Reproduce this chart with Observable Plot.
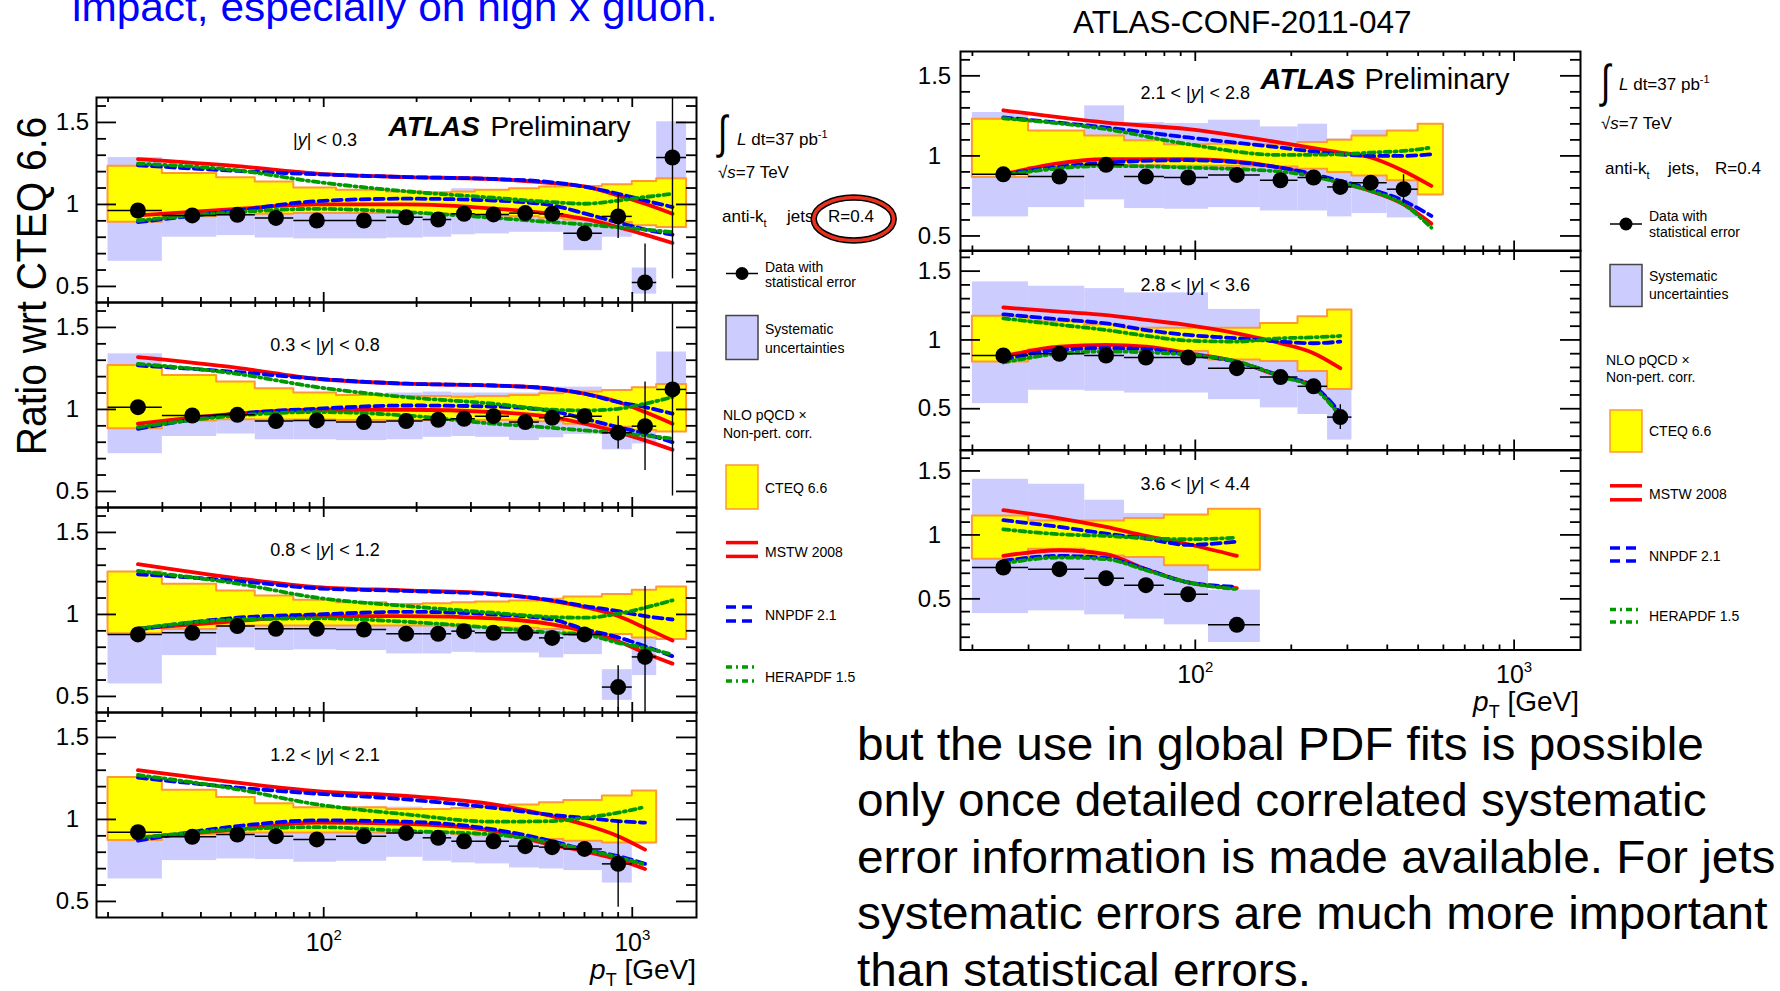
<!DOCTYPE html>
<html>
<head>
<meta charset="utf-8">
<script src="https://cdn.jsdelivr.net/npm/d3@7"></script>
<script src="https://cdn.jsdelivr.net/npm/@observablehq/plot@0.6"></script>
<style>
  html, body { margin: 0; padding: 0; background: #ffffff; }
  #root { position: relative; width: 1780px; height: 991px; overflow: hidden; background: #ffffff;
          font-family: 'Liberation Sans', Arial, Helvetica, sans-serif; }
  .panel { position: absolute; }
  .panel svg { overflow: visible; max-width: none; display: block; }
  #overlay { position: absolute; left: 0; top: 0; pointer-events: none; }
</style>
</head>
<body>
<div id="root"></div>
<script>
// ------------------------------------------------------------------ data
const binEdges = [20, 30, 45, 60, 80, 110, 160, 210, 260, 310, 400, 500, 600, 800, 1000, 1200, 1500];
const xDomain = [18.35, 1615];
const xMajorTicks = [100, 1000];
const xMajorTickLabels = ["10²", "10³"];
const xMinorTicks = [20, 30, 40, 50, 60, 70, 80, 90, 200, 300, 400, 500, 600, 700, 800, 900];
const yMajorTicks = [0.5, 1, 1.5];
const yMajorTickLabels = ["0.5", "1", "1.5"];
const yMinorTicks = [0.2, 0.3, 0.4, 0.6, 0.7, 0.8, 0.9, 1.1, 1.2, 1.3, 1.4, 1.6];
const rapidityBins = ["|y| < 0.3", "0.3 < |y| < 0.8", "0.8 < |y| < 1.2", "1.2 < |y| < 2.1",
                      "2.1 < |y| < 2.8", "2.8 < |y| < 3.6", "3.6 < |y| < 4.4"];

const curveXLeft = [25, 52.5, 95, 185, 355, 550, 700, 900, 1100, 1350];
const curveXLeft4 = [25, 52.5, 95, 185, 355, 550, 700, 900, 1100];
const curveXR1 = [25, 52.5, 95, 185, 285, 355, 450, 550];
const curveXR2 = [25, 37.5, 52.5, 70, 95, 135, 185, 235, 285];
const curveXR3 = [25, 37.5, 52.5, 70, 95, 135];

// |y| < 0.3
const p1Data = [0.963, 0.933, 0.937, 0.918, 0.902, 0.902, 0.922, 0.908, 0.943, 0.939, 0.947, 0.943, 0.824, 0.927, 0.524, 1.286];
const p1Stat = [0.008, 0.006, 0.006, 0.006, 0.006, 0.006, 0.007, 0.008, 0.009, 0.01, 0.012, 0.016, 0.025, 0.135, 0.235, 0.74];
const p1SysLo = [0.653, 0.80, 0.81, 0.795, 0.79, 0.79, 0.795, 0.80, 0.815, 0.82, 0.83, 0.83, 0.718, 0.80, 0.453, 1.02];
const p1SysHi = [1.286, 1.12, 1.10, 1.08, 1.07, 1.07, 1.075, 1.07, 1.096, 1.085, 1.09, 1.08, 0.95, 1.06, 0.612, 1.504];
const p1CteqLo = [0.892, 0.925, 0.935, 0.94, 0.945, 0.945, 0.945, 0.94, 0.935, 0.93, 0.925, 0.915, 0.905, 0.89, 0.87, 0.86];
const p1CteqHi = [1.233, 1.188, 1.163, 1.137, 1.10, 1.086, 1.076, 1.071, 1.076, 1.086, 1.096, 1.106, 1.11, 1.12, 1.14, 1.157];
const p1MstwUp = [1.276, 1.233, 1.188, 1.167, 1.155, 1.13, 1.11, 1.055, 1.004, 0.943];
const p1MstwLo = [0.933, 0.973, 1.0, 1.0, 0.975, 0.943, 0.912, 0.861, 0.816, 0.765];
const p1NnpdfUp = [1.239, 1.204, 1.184, 1.167, 1.155, 1.135, 1.108, 1.065, 1.024, 0.984];
const p1NnpdfLo = [0.892, 0.963, 1.02, 1.035, 1.024, 0.994, 0.945, 0.89, 0.847, 0.816];
const p1HeraUp = [1.249, 1.208, 1.137, 1.08, 1.041, 1.014, 1.004, 1.024, 1.045, 1.065];
const p1HeraLo = [0.902, 0.953, 0.973, 0.953, 0.918, 0.892, 0.878, 0.861, 0.847, 0.831];

// 0.3 < |y| < 0.8
const p2Data = [1.014, 0.963, 0.967, 0.929, 0.933, 0.923, 0.929, 0.937, 0.943, 0.959, 0.923, 0.949, 0.959, 0.858, 0.898, 1.122];
const p2Stat = [0.008, 0.006, 0.006, 0.006, 0.006, 0.006, 0.007, 0.008, 0.009, 0.01, 0.012, 0.016, 0.025, 0.1, 0.27, 0.65];
const p2SysLo = [0.73, 0.835, 0.85, 0.815, 0.815, 0.81, 0.815, 0.83, 0.835, 0.83, 0.81, 0.827, 0.848, 0.754, 0.79, 1.0];
const p2SysHi = [1.339, 1.10, 1.09, 1.09, 1.09, 1.09, 1.10, 1.106, 1.10, 1.10, 1.10, 1.136, 1.136, 1.05, 1.05, 1.35];
const p2CteqLo = [0.882, 0.929, 0.937, 0.935, 0.935, 0.933, 0.933, 0.933, 0.933, 0.933, 0.93, 0.925, 0.91, 0.892, 0.872, 0.862];
const p2CteqHi = [1.268, 1.207, 1.167, 1.126, 1.10, 1.085, 1.079, 1.079, 1.075, 1.079, 1.085, 1.096, 1.106, 1.116, 1.132, 1.152];
const p2MstwUp = [1.319, 1.254, 1.187, 1.157, 1.146, 1.126, 1.096, 1.045, 0.984, 0.913];
const p2MstwLo = [0.913, 0.974, 0.998, 0.998, 0.984, 0.953, 0.913, 0.862, 0.811, 0.754];
const p2NnpdfUp = [1.268, 1.228, 1.187, 1.157, 1.146, 1.126, 1.096, 1.045, 1.014, 0.974];
const p2NnpdfLo = [0.882, 0.974, 1.004, 1.024, 1.018, 0.99, 0.943, 0.892, 0.852, 0.80];
const p2HeraUp = [1.278, 1.217, 1.136, 1.075, 1.035, 0.998, 0.994, 1.004, 1.035, 1.075];
const p2HeraLo = [0.892, 0.963, 0.984, 0.963, 0.913, 0.888, 0.872, 0.856, 0.841, 0.821];

// 0.8 < |y| < 1.2
const p3Data = [0.878, 0.888, 0.929, 0.912, 0.912, 0.908, 0.882, 0.882, 0.898, 0.888, 0.888, 0.857, 0.878, 0.557, 0.741];
const p3Stat = [0.008, 0.006, 0.006, 0.006, 0.006, 0.006, 0.007, 0.008, 0.009, 0.01, 0.012, 0.016, 0.03, 0.13, 0.43];
const p3SysLo = [0.576, 0.749, 0.796, 0.78, 0.784, 0.78, 0.759, 0.759, 0.769, 0.765, 0.765, 0.735, 0.755, 0.476, 0.627];
const p3SysHi = [1.15, 1.05, 1.06, 1.05, 1.05, 1.05, 1.03, 1.03, 1.04, 1.03, 1.03, 1.0, 1.02, 0.663, 0.857];
const p3CteqLo = [0.882, 0.908, 0.929, 0.93, 0.93, 0.93, 0.93, 0.93, 0.925, 0.92, 0.915, 0.908, 0.888, 0.878, 0.857, 0.847];
const p3CteqHi = [1.259, 1.184, 1.143, 1.112, 1.086, 1.071, 1.061, 1.065, 1.071, 1.076, 1.082, 1.092, 1.106, 1.122, 1.147, 1.167];
const p3MstwUp = [1.306, 1.22, 1.167, 1.147, 1.127, 1.082, 1.045, 0.99, 0.918, 0.841];
const p3MstwLo = [0.914, 0.959, 0.99, 0.99, 0.976, 0.939, 0.898, 0.837, 0.765, 0.70];
const p3NnpdfUp = [1.245, 1.204, 1.159, 1.143, 1.122, 1.086, 1.051, 1.02, 0.99, 0.969];
const p3NnpdfLo = [0.908, 0.98, 1.0, 1.016, 1.0, 0.969, 0.91, 0.86, 0.806, 0.745];
const p3HeraUp = [1.265, 1.188, 1.102, 1.051, 1.01, 0.984, 0.98, 1.004, 1.041, 1.086];
const p3HeraLo = [0.914, 0.969, 0.976, 0.955, 0.918, 0.888, 0.878, 0.827, 0.796, 0.755];

// 1.2 < |y| < 2.1
const p4Data = [0.922, 0.894, 0.908, 0.898, 0.878, 0.898, 0.918, 0.888, 0.867, 0.867, 0.837, 0.831, 0.82, 0.729];
const p4Stat = [0.008, 0.006, 0.006, 0.006, 0.006, 0.006, 0.007, 0.008, 0.009, 0.01, 0.012, 0.016, 0.04, 0.265];
const p4SysLo = [0.637, 0.749, 0.759, 0.755, 0.739, 0.745, 0.769, 0.745, 0.735, 0.729, 0.704, 0.698, 0.688, 0.612];
const p4SysHi = [1.15, 1.04, 1.05, 1.05, 1.04, 1.075, 1.075, 1.04, 1.03, 1.03, 1.0, 1.0, 0.99, 0.95];
const p4CteqLo = [0.871, 0.908, 0.918, 0.918, 0.918, 0.918, 0.918, 0.918, 0.908, 0.9, 0.888, 0.878, 0.867, 0.857, 0.857];
const p4CteqHi = [1.255, 1.178, 1.133, 1.096, 1.071, 1.071, 1.061, 1.061, 1.067, 1.076, 1.088, 1.102, 1.116, 1.143, 1.173];
const p4MstwUp = [1.30, 1.224, 1.173, 1.143, 1.092, 1.02, 0.969, 0.898, 0.816];
const p4MstwLo = [0.888, 0.939, 0.98, 0.973, 0.929, 0.845, 0.806, 0.755, 0.698];
const p4NnpdfUp = [1.255, 1.194, 1.157, 1.122, 1.071, 1.027, 1.01, 0.99, 0.98];
const p4NnpdfLo = [0.871, 0.959, 0.994, 0.986, 0.939, 0.867, 0.816, 0.776, 0.729];
const p4HeraUp = [1.271, 1.184, 1.092, 1.031, 0.986, 0.99, 1.01, 1.041, 1.076];
const p4HeraLo = [0.888, 0.939, 0.953, 0.929, 0.908, 0.857, 0.816, 0.769, 0.724];

// 2.1 < |y| < 2.8
const p5Data = [0.885, 0.871, 0.944, 0.871, 0.865, 0.881, 0.848, 0.865, 0.806, 0.833, 0.792];
const p5Stat = [0.008, 0.006, 0.006, 0.006, 0.006, 0.007, 0.008, 0.01, 0.012, 0.02, 0.09];
const p5SysLo = [0.619, 0.677, 0.725, 0.671, 0.667, 0.677, 0.656, 0.656, 0.619, 0.64, 0.6125];
const p5SysHi = [1.271, 1.156, 1.3125, 1.208, 1.202, 1.223, 1.181, 1.198, 1.106, 1.16, 1.156];
const p5CteqLo = [0.865, 0.927, 0.944, 0.94, 0.935, 0.935, 0.93, 0.917, 0.896, 0.875, 0.844, 0.756];
const p5CteqHi = [1.229, 1.156, 1.125, 1.094, 1.069, 1.073, 1.069, 1.083, 1.098, 1.125, 1.156, 1.198];
const p5MstwUp = [1.285, 1.208, 1.167, 1.083, 1.021, 0.99, 0.906, 0.8125];
const p5MstwLo = [0.885, 0.979, 0.979, 0.927, 0.833, 0.781, 0.698, 0.577];
const p5NnpdfUp = [1.24, 1.177, 1.115, 1.052, 1.01, 1.0, 1.0, 1.01];
const p5NnpdfLo = [0.885, 0.958, 0.973, 0.927, 0.844, 0.792, 0.719, 0.625];
const p5HeraUp = [1.235, 1.167, 1.073, 1.006, 1.01, 1.021, 1.031, 1.052];
const p5HeraLo = [0.881, 0.9375, 0.927, 0.902, 0.833, 0.781, 0.698, 0.552];

// 2.8 < |y| < 3.6
const p6Data = [0.887, 0.899, 0.887, 0.872, 0.872, 0.795, 0.73, 0.663, 0.439];
const p6Stat = [0.008, 0.008, 0.008, 0.008, 0.01, 0.012, 0.015, 0.02, 0.09];
const p6SysLo = [0.537, 0.634, 0.627, 0.614, 0.614, 0.566, 0.506, 0.458, 0.272];
const p6SysHi = [1.422, 1.39, 1.373, 1.342, 1.342, 1.222, 1.0, 0.9, 0.7];
const p6CteqLo = [0.839, 0.928, 0.933, 0.928, 0.916, 0.855, 0.843, 0.771, 0.639];
const p6CteqHi = [1.173, 1.133, 1.108, 1.084, 1.084, 1.084, 1.12, 1.169, 1.217];
const p6MstwUp = [1.236, 1.205, 1.181, 1.145, 1.108, 1.048, 0.976, 0.904, 0.795];
const p6MstwLo = [0.88, 0.952, 0.964, 0.952, 0.904, 0.843, 0.735, 0.663, 0.451];
const p6NnpdfUp = [1.186, 1.149, 1.12, 1.072, 1.036, 1.012, 0.988, 0.976, 0.988];
const p6NnpdfLo = [0.855, 0.928, 0.94, 0.933, 0.895, 0.84, 0.74, 0.663, 0.47];
const p6HeraUp = [1.157, 1.11, 1.072, 1.03, 0.995, 0.988, 1.012, 1.019, 1.029];
const p6HeraLo = [0.836, 0.9, 0.916, 0.91, 0.892, 0.843, 0.735, 0.651, 0.446];

// 3.6 < |y| < 4.4
const p7Data = [0.745, 0.732, 0.661, 0.607, 0.536, 0.297];
const p7Stat = [0.01, 0.01, 0.01, 0.01, 0.012, 0.015];
const p7SysLo = [0.385, 0.406, 0.375, 0.341, 0.297, 0.159];
const p7SysHi = [1.435, 1.396, 1.271, 1.167, 1.0, 0.568];
const p7CteqLo = [0.81, 0.888, 0.836, 0.823, 0.758, 0.724];
const p7CteqHi = [1.148, 1.109, 1.109, 1.128, 1.156, 1.20];
const p7MstwUp = [1.193, 1.13, 1.0625, 0.992, 0.927, 0.836];
const p7MstwLo = [0.836, 0.88, 0.849, 0.732, 0.628, 0.583];
const p7NnpdfUp = [1.115, 1.0625, 1.01, 0.971, 0.922, 0.948];
const p7NnpdfLo = [0.797, 0.836, 0.818, 0.732, 0.628, 0.594];
const p7HeraUp = [1.044, 1.005, 0.992, 0.974, 0.966, 0.979];
const p7HeraLo = [0.776, 0.823, 0.81, 0.724, 0.628, 0.576];

// ------------------------------------------------------------------ styles
const FONT = "'Liberation Sans', Arial, Helvetica, sans-serif";
const RED = "#ff0000", BLUE = "#0000ff", GREEN = "#009a00";
const YELLOW = "#ffff00", ORANGE = "#ff9933", SYS = "#ccccff";

const panels = [
  {label: rapidityBins[0], data: p1Data, stat: p1Stat, sysLo: p1SysLo, sysHi: p1SysHi, cteqLo: p1CteqLo, cteqHi: p1CteqHi,
   curveX: curveXLeft, mstwUp: p1MstwUp, mstwLo: p1MstwLo, nnpdfUp: p1NnpdfUp, nnpdfLo: p1NnpdfLo, heraUp: p1HeraUp, heraLo: p1HeraLo},
  {label: rapidityBins[1], data: p2Data, stat: p2Stat, sysLo: p2SysLo, sysHi: p2SysHi, cteqLo: p2CteqLo, cteqHi: p2CteqHi,
   curveX: curveXLeft, mstwUp: p2MstwUp, mstwLo: p2MstwLo, nnpdfUp: p2NnpdfUp, nnpdfLo: p2NnpdfLo, heraUp: p2HeraUp, heraLo: p2HeraLo},
  {label: rapidityBins[2], data: p3Data, stat: p3Stat, sysLo: p3SysLo, sysHi: p3SysHi, cteqLo: p3CteqLo, cteqHi: p3CteqHi,
   curveX: curveXLeft, mstwUp: p3MstwUp, mstwLo: p3MstwLo, nnpdfUp: p3NnpdfUp, nnpdfLo: p3NnpdfLo, heraUp: p3HeraUp, heraLo: p3HeraLo},
  {label: rapidityBins[3], data: p4Data, stat: p4Stat, sysLo: p4SysLo, sysHi: p4SysHi, cteqLo: p4CteqLo, cteqHi: p4CteqHi,
   curveX: curveXLeft4, mstwUp: p4MstwUp, mstwLo: p4MstwLo, nnpdfUp: p4NnpdfUp, nnpdfLo: p4NnpdfLo, heraUp: p4HeraUp, heraLo: p4HeraLo},
  {label: rapidityBins[4], data: p5Data, stat: p5Stat, sysLo: p5SysLo, sysHi: p5SysHi, cteqLo: p5CteqLo, cteqHi: p5CteqHi,
   curveX: curveXR1, mstwUp: p5MstwUp, mstwLo: p5MstwLo, nnpdfUp: p5NnpdfUp, nnpdfLo: p5NnpdfLo, heraUp: p5HeraUp, heraLo: p5HeraLo},
  {label: rapidityBins[5], data: p6Data, stat: p6Stat, sysLo: p6SysLo, sysHi: p6SysHi, cteqLo: p6CteqLo, cteqHi: p6CteqHi,
   curveX: curveXR2, mstwUp: p6MstwUp, mstwLo: p6MstwLo, nnpdfUp: p6NnpdfUp, nnpdfLo: p6NnpdfLo, heraUp: p6HeraUp, heraLo: p6HeraLo},
  {label: rapidityBins[6], data: p7Data, stat: p7Stat, sysLo: p7SysLo, sysHi: p7SysHi, cteqLo: p7CteqLo, cteqHi: p7CteqHi,
   curveX: curveXR3, mstwUp: p7MstwUp, mstwLo: p7MstwLo, nnpdfUp: p7NnpdfUp, nnpdfLo: p7NnpdfLo, heraUp: p7HeraUp, heraLo: p7HeraLo}
];

// layout of each panel frame (pixels on the page)
const layout = [
  {left: 96, top: 97, w: 600, h: 205, yDomain: [0.402, 1.652], labelX: 101, labelDx: 24, atlas: {dx: 292, dy: 38, dx2: 394, size: 28}},
  {left: 96, top: 302, w: 600, h: 205, yDomain: [0.402, 1.652], labelX: 101, labelDx: 24},
  {left: 96, top: 507, w: 600, h: 205, yDomain: [0.402, 1.652], labelX: 101, labelDx: 24},
  {left: 96, top: 712, w: 600, h: 205, yDomain: [0.402, 1.652], labelX: 101, labelDx: 24, bottom: true},
  {left: 959.5, top: 50.5, w: 620, h: 199.5, yDomain: [0.406, 1.652], labelX: 100, labelDx: 26, atlas: {dx: 300, dy: 37.5, dx2: 404, size: 29}},
  {left: 959.5, top: 250, w: 620, h: 199.5, yDomain: [0.2, 1.65], labelX: 100, labelDx: 26},
  {left: 959.5, top: 449.5, w: 620, h: 199.5, yDomain: [0.1, 1.66], labelX: 100, labelDx: 26, bottom: true}
];

const root = document.getElementById("root");

function makePanel(p, g) {
  const mT = 6, mB = g.bottom ? 56 : 6, mL = 70, mR = 12;
  const W = g.w, H = g.h;
  const [yLo, yHi] = g.yDomain;
  const dataRows = p.data.map((v, i) => ({
    x: (binEdges[i] + binEdges[i + 1]) / 2, x1: binEdges[i], x2: binEdges[i + 1],
    y: v, y1: v - p.stat[i], y2: v + p.stat[i]
  }));
  const sysRows = p.sysLo.map((v, i) => ({x1: binEdges[i], x2: binEdges[i + 1], y1: v, y2: p.sysHi[i]}));
  const nc = p.cteqHi.length;
  const cteqRows = binEdges.slice(0, nc + 1).map((x, i) => ({
    x, y1: p.cteqLo[Math.min(i, nc - 1)], y2: p.cteqHi[Math.min(i, nc - 1)]
  }));
  const pts = (ys) => p.curveX.map((x, i) => ({x, y: ys[i]}));
  const minor = yMinorTicks.filter(v => v > yLo + 1e-6 && v < yHi - 1e-6);
  const tk = {stroke: "#000", strokeWidth: 1.8};
  const theory = [
    [p.mstwUp, p.mstwLo, {stroke: RED, strokeWidth: 3.8}],
    [p.nnpdfUp, p.nnpdfLo, {stroke: BLUE, strokeWidth: 3.8, strokeDasharray: "9,5"}],
    [p.heraUp, p.heraLo, {stroke: GREEN, strokeWidth: 3.8, strokeDasharray: "6,4,2,4"}]
  ];
  const marks = [
    Plot.rect(sysRows, {x1: "x1", x2: "x2", y1: "y1", y2: "y2", fill: SYS}),
    Plot.areaY(cteqRows, {x: "x", y1: "y1", y2: "y2", curve: "step-after", fill: YELLOW, stroke: ORANGE, strokeWidth: 2})
  ];
  for (const [up, lo, st] of theory) {
    marks.push(Plot.line(pts(up), {x: "x", y: "y", curve: "monotone-x", ...st}));
    marks.push(Plot.line(pts(lo), {x: "x", y: "y", curve: "monotone-x", ...st}));
  }
  marks.push(
    Plot.ruleY(dataRows, {y: "y", x1: "x1", x2: "x2", stroke: "#000", strokeWidth: 1.5}),
    Plot.ruleX(dataRows, {x: "x", y1: "y1", y2: "y2", stroke: "#000", strokeWidth: 1.4, clip: true}),
    Plot.dot(dataRows, {x: "x", y: "y", r: 8, fill: "#000", stroke: "none"}),
    Plot.frame({stroke: "#000", strokeWidth: 2}),
    // y ticks, both sides, pointing inwards
    Plot.ruleY(yMajorTicks, {y: d => d, insetRight: W - 20, ...tk}),
    Plot.ruleY(minor, {y: d => d, insetRight: W - 10, ...tk}),
    Plot.ruleY(yMajorTicks, {y: d => d, insetLeft: W - 20, ...tk}),
    Plot.ruleY(minor, {y: d => d, insetLeft: W - 10, ...tk}),
    // x ticks, top and bottom, pointing inwards
    Plot.ruleX(xMajorTicks, {x: d => d, insetTop: H - 10, ...tk}),
    Plot.ruleX(xMinorTicks, {x: d => d, insetTop: H - 5, ...tk}),
    Plot.ruleX(xMajorTicks, {x: d => d, insetBottom: H - 10, ...tk}),
    Plot.ruleX(xMinorTicks, {x: d => d, insetBottom: H - 5, ...tk}),
    Plot.text(yMajorTicks, {y: d => d, text: (d, i) => yMajorTickLabels[i], frameAnchor: "left", dx: -g.labelDx,
      textAnchor: "middle", lineAnchor: "middle", fontSize: 24}),
    Plot.text([p.label], {x: g.labelX, y: 1.355, text: d => d, textAnchor: "middle", lineAnchor: "bottom", fontSize: 18})
  );
  if (g.atlas) {
    marks.push(
      Plot.text(["ATLAS"], {text: d => d, frameAnchor: "top-left", dx: g.atlas.dx, dy: g.atlas.dy, textAnchor: "start",
        lineAnchor: "bottom", fontSize: g.atlas.size, fontWeight: "bold", fontStyle: "italic"}),
      Plot.text(["Preliminary"], {text: d => d, frameAnchor: "top-left", dx: g.atlas.dx2, dy: g.atlas.dy, textAnchor: "start",
        lineAnchor: "bottom", fontSize: g.atlas.size})
    );
  }
  if (g.bottom) {
    marks.push(Plot.text(xMajorTicks, {x: d => d, text: (d, i) => xMajorTickLabels[i], frameAnchor: "bottom", dy: 33,
      textAnchor: "middle", lineAnchor: "bottom", fontSize: 25}));
  }
  const svg = Plot.plot({
    width: mL + W + mR, height: mT + H + mB,
    marginLeft: mL, marginRight: mR, marginTop: mT, marginBottom: mB,
    x: {type: "log", domain: xDomain, axis: null},
    y: {domain: g.yDomain, axis: null},
    style: {fontFamily: FONT, fontSize: "18px", background: "none", overflow: "visible", color: "#000"},
    marks
  });
  // italic y inside "|y|", superscript exponents
  d3.select(svg).selectAll("text").each(function () {
    const t = this.textContent;
    const sel = d3.select(this);
    if (t.includes("|y|")) {
      const [a, b] = t.split("|y|");
      sel.text(null);
      sel.append("tspan").text(a + "|");
      sel.append("tspan").attr("font-style", "italic").text("y");
      sel.append("tspan").text("|" + b);
    } else if (/^10[²³]$/.test(t)) {
      const e = t.endsWith("²") ? "2" : "3";
      sel.text(null);
      sel.append("tspan").text("10");
      sel.append("tspan").attr("font-size", "0.6em").attr("dy", "-0.72em").text(e);
    }
  });
  const div = document.createElement("div");
  div.className = "panel";
  div.style.left = (g.left - mL) + "px";
  div.style.top = (g.top - mT) + "px";
  div.style.width = (mL + W + mR) + "px";
  div.appendChild(svg);
  root.appendChild(div);
}

panels.forEach((p, i) => makePanel(p, layout[i]));

// ------------------------------------------------------------------ texts, legends
function legend(o) {
  const t = (x, y, s, size = 14, extra = "") => `<text x="${x}" y="${y}" font-size="${size}" ${extra}>${s}</text>`;
  const bx = o.boxX, bw = 32;
  return `
  <g transform="translate(${o.intX},${o.intY}) scale(0.75,1)"><text x="0" y="0" font-size="46">∫</text></g>
  ${t(o.lumX, o.lumY, `<tspan font-style="italic">L</tspan> dt=37 pb<tspan font-size="11" dy="-7">-1</tspan>`, 17)}
  ${t(o.sqX, o.sqY, `√<tspan font-style="italic">s</tspan>=7 TeV`, 17)}
  ${t(o.akX, o.akY, `anti-k<tspan font-size="11" dy="5">t</tspan>`, 17)}
  ${t(o.jetsX, o.akY, `jets,`, 17)}
  ${t(o.rX, o.akY, `R=0.4`, 17)}
  <line x1="${bx}" x2="${bx + bw}" y1="${o.dataY}" y2="${o.dataY}" stroke="#000" stroke-width="1.5"/>
  <circle cx="${bx + bw / 2}" cy="${o.dataY}" r="6.5" fill="#000"/>
  ${t(o.textX, o.dataT1, "Data with")}
  ${t(o.textX, o.dataT2, "statistical error")}
  <rect x="${bx}" y="${o.sysY}" width="${bw}" height="${o.boxH}" fill="${SYS}" stroke="#444" stroke-width="1.5"/>
  ${t(o.textX, o.sysT1, "Systematic")}
  ${t(o.textX, o.sysT2, "uncertainties")}
  ${t(o.nloX, o.nloT1, "NLO pQCD ×")}
  ${t(o.nloX, o.nloT2, "Non-pert. corr.")}
  <rect x="${bx}" y="${o.cteqY}" width="${bw}" height="${o.boxH}" fill="${YELLOW}" stroke="${ORANGE}" stroke-width="1.5"/>
  ${t(o.textX, o.cteqT, "CTEQ 6.6")}
  <line x1="${bx}" x2="${bx + bw}" y1="${o.mstw[0]}" y2="${o.mstw[0]}" stroke="${RED}" stroke-width="3.5"/>
  <line x1="${bx}" x2="${bx + bw}" y1="${o.mstw[1]}" y2="${o.mstw[1]}" stroke="${RED}" stroke-width="3.5"/>
  ${t(o.textX, o.mstw[2], "MSTW 2008")}
  <line x1="${bx}" x2="${bx + bw}" y1="${o.nn[0]}" y2="${o.nn[0]}" stroke="${BLUE}" stroke-width="3.5" stroke-dasharray="10,6"/>
  <line x1="${bx}" x2="${bx + bw}" y1="${o.nn[1]}" y2="${o.nn[1]}" stroke="${BLUE}" stroke-width="3.5" stroke-dasharray="10,6"/>
  ${t(o.textX, o.nn[2], "NNPDF 2.1")}
  <line x1="${bx}" x2="${bx + bw}" y1="${o.he[0]}" y2="${o.he[0]}" stroke="${GREEN}" stroke-width="3.5" stroke-dasharray="6,4,2,4"/>
  <line x1="${bx}" x2="${bx + bw}" y1="${o.he[1]}" y2="${o.he[1]}" stroke="${GREEN}" stroke-width="3.5" stroke-dasharray="6,4,2,4"/>
  ${t(o.textX, o.he[2], "HERAPDF 1.5")}
  `;
}

const leftLegend = legend({
  intX: 718, intY: 148, lumX: 737, lumY: 145, sqX: 718, sqY: 178, akX: 722, akY: 222, jetsX: 787, rX: 828,
  boxX: 726, textX: 765, dataY: 273.5, dataT1: 271.5, dataT2: 287, sysY: 315.5, boxH: 44,
  sysT1: 334, sysT2: 352.5, nloX: 723, nloT1: 420, nloT2: 438, cteqY: 465, cteqT: 493,
  mstw: [542.6, 556.4, 557], nn: [607, 621, 620], he: [667, 681, 682]
});
const rightLegend = legend({
  intX: 1601, intY: 97, lumX: 1619, lumY: 90, sqX: 1601, sqY: 129, akX: 1605, akY: 174, jetsX: 1668, rX: 1715,
  boxX: 1610, textX: 1649, dataY: 224, dataT1: 221, dataT2: 237, sysY: 264.5, boxH: 42,
  sysT1: 281, sysT2: 299, nloX: 1606, nloT1: 365, nloT2: 382, cteqY: 410, cteqT: 436,
  mstw: [485.8, 499.8, 499], nn: [548, 561, 561], he: [609.6, 622, 621]
});

const paragraph = [
  "but the use in global PDF fits is possible",
  "only once detailed correlated systematic",
  "error information is made available. For jets",
  "systematic errors are much more important",
  "than statistical errors."
];
const paraBaselines = [760.5, 816.5, 873, 929.5, 986];

const overlay = `
<svg id="overlay" width="1780" height="991" xmlns="http://www.w3.org/2000/svg" font-family="${FONT.replace(/'/g, "&apos;")}" fill="#000">
  <g transform="translate(72,21) scale(1.06,1)"><text x="0" y="0" font-size="40" fill="#0000ff">impact, especially on high x gluon.</text></g>
  <text x="1073" y="33" font-size="31.5">ATLAS-CONF-2011-047</text>
  <g transform="translate(46,286) rotate(-90) scale(0.93,1)"><text x="0" y="0" text-anchor="middle" font-size="42">Ratio wrt CTEQ 6.6</text></g>
  <text x="696" y="979" text-anchor="end" font-size="28"><tspan font-style="italic">p</tspan><tspan font-size="18" dy="7">T</tspan><tspan dy="-7"> [GeV]</tspan></text>
  <text x="1579" y="711" text-anchor="end" font-size="28"><tspan font-style="italic">p</tspan><tspan font-size="18" dy="7">T</tspan><tspan dy="-7"> [GeV]</tspan></text>
  ${leftLegend}
  <ellipse cx="853.7" cy="219" rx="40" ry="21.5" fill="none" stroke="#000" stroke-width="6.5"/>
  <ellipse cx="853.7" cy="219" rx="40" ry="21.5" fill="none" stroke="#e8321e" stroke-width="3.5"/>
  ${rightLegend}
  <g transform="translate(857,0) scale(1.05,1)">
    ${paragraph.map((s, i) => `<text x="0" y="${paraBaselines[i]}" font-size="45.5">${s}</text>`).join("")}
  </g>
</svg>`;
root.insertAdjacentHTML("beforeend", overlay);
</script>
</body>
</html>
